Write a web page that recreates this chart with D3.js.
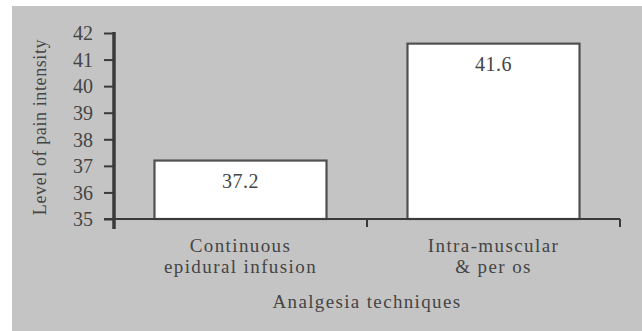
<!DOCTYPE html>
<html>
<head>
<meta charset="utf-8">
<script src="https://cdn.jsdelivr.net/npm/d3@7"></script>
<style>
  html, body { margin: 0; padding: 0; background: #ffffff; }
  svg { display: block; }
  text { font-family: "Liberation Serif", "DejaVu Serif", serif; fill: #454545; }
</style>
</head>
<body>
<svg id="chart" width="642" height="331"></svg>
<script>
// Pain intensity by analgesia technique
const categories = ["Continuous\nepidural infusion", "Intra-muscular\n& per os"];
const values = [37.2, 41.6];
const yTicks = [35, 36, 37, 38, 39, 40, 41, 42];

const svg = d3.select("#chart");
const W = 642, H = 331;

// grey panel behind the chart
svg.append("rect").attr("x", 12).attr("y", 6)
  .attr("width", W - 12).attr("height", H - 6).attr("fill", "#c4c4c4");

const plot = { left: 114, right: 620, top: 33, bottom: 219 };

const x = d3.scaleBand().domain(categories)
  .range([plot.left, plot.right]).paddingInner(0.32).paddingOuter(0.16);
const y = d3.scaleLinear().domain([35, 42]).range([plot.bottom, plot.top]);

// bars
svg.append("g").selectAll("rect").data(values).join("rect")
  .attr("x", (d, i) => x(categories[i]))
  .attr("y", d => y(d))
  .attr("width", x.bandwidth())
  .attr("height", d => y(35) - y(d))
  .attr("fill", "#ffffff")
  .attr("stroke", "#505050")
  .attr("stroke-width", 2.2);

// value labels inside bar tops
svg.append("g").selectAll("text").data(values).join("text")
  .attr("x", (d, i) => x(categories[i]) + x.bandwidth() / 2)
  .attr("y", d => y(d) + 27)
  .attr("text-anchor", "middle")
  .attr("font-size", 20)
  .attr("letter-spacing", 0.5)
  .text(d => d.toFixed(1));

// y axis
const yAxis = d3.axisLeft(y).tickValues(yTicks).tickSize(10).tickPadding(11)
  .tickFormat(d3.format("d"));
const gy = svg.append("g").attr("transform", `translate(${plot.left},0)`).call(yAxis);
gy.select(".domain").remove();
gy.selectAll(".tick line").attr("stroke", "#3a3a3a").attr("stroke-width", 2);
gy.selectAll(".tick text").attr("font-size", 20).attr("fill", "#454545")
  .attr("font-family", "Liberation Serif, serif").attr("dy", "0.34em");
gy.append("line").attr("x1", 0).attr("x2", 0)
  .attr("y1", plot.top - 1).attr("y2", plot.bottom + 10)
  .attr("stroke", "#3a3a3a").attr("stroke-width", 3.5);

// x axis with ticks at category boundaries
const boundaries = [plot.left, (plot.left + plot.right) / 2, plot.right];
const gx = svg.append("g");
gx.append("line").attr("x1", plot.left - 10).attr("x2", plot.right)
  .attr("y1", plot.bottom).attr("y2", plot.bottom)
  .attr("stroke", "#3a3a3a").attr("stroke-width", 2);
gx.selectAll("line.tk").data(boundaries.slice(1)).join("line").attr("class", "tk")
  .attr("x1", d => d).attr("x2", d => d)
  .attr("y1", plot.bottom).attr("y2", plot.bottom + 8)
  .attr("stroke", "#3a3a3a").attr("stroke-width", 2);

// category labels
const catLabels = svg.append("g").selectAll("text").data(categories).join("text")
  .attr("text-anchor", "middle")
  .attr("font-size", 19)
  .attr("letter-spacing", 1.4)
  .attr("transform", d => `translate(${x(d) + x.bandwidth() / 2},252)`);
catLabels.selectAll("tspan").data(d => d.split("\n")).join("tspan")
  .attr("x", 0).attr("dy", (d, i) => i === 0 ? 0 : 21).text(d => d);

// axis titles
svg.append("text").attr("x", 367).attr("y", 308)
  .attr("text-anchor", "middle").attr("font-size", 19).attr("letter-spacing", 1.35)
  .text("Analgesia techniques");
svg.append("text").attr("transform", "translate(46,127) rotate(-90)")
  .attr("text-anchor", "middle").attr("font-size", 18).attr("letter-spacing", 0.6)
  .text("Level of pain intensity");
</script>
</body>
</html>
